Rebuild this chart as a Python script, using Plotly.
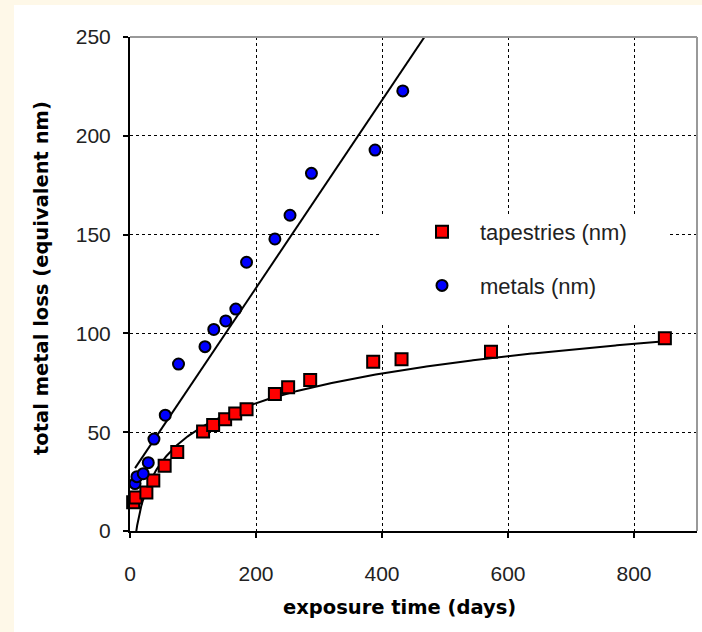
import numpy as np
import plotly.graph_objects as go

# ---- data ----
metal_days = [8, 11, 21, 29, 38, 56, 77, 119, 133, 152, 168, 185, 230, 254, 288, 389, 433]
metal_loss = [24, 27.5, 29, 34.6, 46.5, 58.6, 84.5, 93.3, 102, 106.3, 112.3, 136, 147.8, 159.8, 181, 192.8, 222.7]

tapestry_days = [5, 9, 26, 37, 55, 75, 116, 132, 151, 167, 185, 230, 251, 286, 386, 431, 573, 849]
tapestry_loss = [14.5, 17, 19.5, 25.5, 33, 40, 50.3, 53.6, 56.5, 59.5, 61.6, 69.3, 72.7, 76.4, 85.7, 86.9, 90.7, 97.5]

# trendline coefficients (as drawn on the reference)
metal_fit_slope = 0.475
metal_fit_intercept = 28.0
metal_forecast_days = 50
tapestry_fit_a = 21.6      # y = a*ln(x) + b
tapestry_fit_b = -49.7

x_ticks = [0, 200, 400, 600, 800]
y_ticks = [0, 50, 100, 150, 200, 250]

# ---- derived trendlines ----
mx = np.linspace(min(metal_days), max(metal_days) + metal_forecast_days, 200)
my = metal_fit_intercept + metal_fit_slope * mx
tx = np.linspace(min(tapestry_days), max(tapestry_days), 400)
ty = tapestry_fit_a * np.log(tx) + tapestry_fit_b

fig = go.Figure()
fig.add_trace(go.Scatter(x=mx, y=my, mode="lines", line=dict(color="black", width=2),
                         showlegend=False, hoverinfo="skip"))
fig.add_trace(go.Scatter(x=tx, y=ty, mode="lines", line=dict(color="black", width=2),
                         showlegend=False, hoverinfo="skip"))
fig.add_trace(go.Scatter(x=tapestry_days, y=tapestry_loss, mode="markers", name="tapestries (nm)",
                         legendgroup="t", cliponaxis=False,
                         marker=dict(symbol="square", size=12, color="#FF0000",
                                     line=dict(color="black", width=2))))
fig.add_trace(go.Scatter(x=metal_days, y=metal_loss, mode="markers", name="metals (nm)",
                         legendgroup="m", cliponaxis=False,
                         marker=dict(symbol="circle", size=11, color="#0000FF",
                                     line=dict(color="black", width=2))))

L, R, T, B = 130, 697, 37, 531
W, H = R - L, B - T
def px(xp):
    return (xp - L) / W
def py(yp):
    return (B - yp) / H

tickfont = dict(family="Liberation Sans, Arial, sans-serif", size=21, color="#222222")
titlefont = dict(family="DejaVu Sans, sans-serif", size=19.5, color="black", weight="bold")

fig.update_layout(
    width=702, height=632,
    margin=dict(l=L, r=702 - R, t=T, b=632 - B),
    paper_bgcolor="#FEF8E8",
    plot_bgcolor="white",
    showlegend=True,
    legend=dict(x=px(404), y=py(211), xanchor="left", yanchor="top",
                bgcolor="rgba(0,0,0,0)", borderwidth=0, itemwidth=66,
                tracegroupgap=22, traceorder="grouped",
                font=dict(family="Liberation Sans, Arial, sans-serif", size=22, color="#222222")),
    xaxis=dict(range=[0, 900], tickvals=x_ticks, showgrid=True, gridcolor="black",
               gridwidth=1, griddash="3px,3px", showline=True, linecolor="black", linewidth=2,
               ticks="outside", ticklen=5, tickcolor="black", tickwidth=1.5,
               tickfont=tickfont, ticklabelstandoff=18, zeroline=False),
    yaxis=dict(range=[0, 250], tickvals=y_ticks, showgrid=True, gridcolor="black",
               gridwidth=1, griddash="3px,3px", showline=True, linecolor="black", linewidth=2,
               ticks="outside", ticklen=5, tickcolor="black", tickwidth=1.5,
               tickfont=tickfont, ticklabelstandoff=8, zeroline=False),
    shapes=[
        dict(type="rect", xref="paper", yref="paper", x0=px(14), x1=px(702), y0=py(632), y1=py(5),
             fillcolor="white", line=dict(width=0), layer="below"),
        dict(type="rect", xref="paper", yref="paper", x0=px(380), x1=px(670), y0=py(322), y1=py(215),
             fillcolor="white", line=dict(width=0), layer="above"),
        dict(type="line", xref="paper", yref="paper", x0=0, x1=1, y0=1, y1=1,
             line=dict(color="#999999", width=2), layer="above"),
        dict(type="line", xref="paper", yref="paper", x0=1, x1=1, y0=0, y1=1,
             line=dict(color="#999999", width=2), layer="above"),
    ],
    annotations=[
        dict(text="exposure time (days)", xref="paper", yref="paper", x=px(399), y=py(607),
             xanchor="center", yanchor="middle", showarrow=False, font=titlefont),
        dict(text="total metal loss (equivalent nm)", xref="paper", yref="paper", x=px(41), y=py(278),
             xanchor="center", yanchor="middle", showarrow=False, textangle=-90, font=titlefont),
    ],
)

fig.write_html("out.html")
